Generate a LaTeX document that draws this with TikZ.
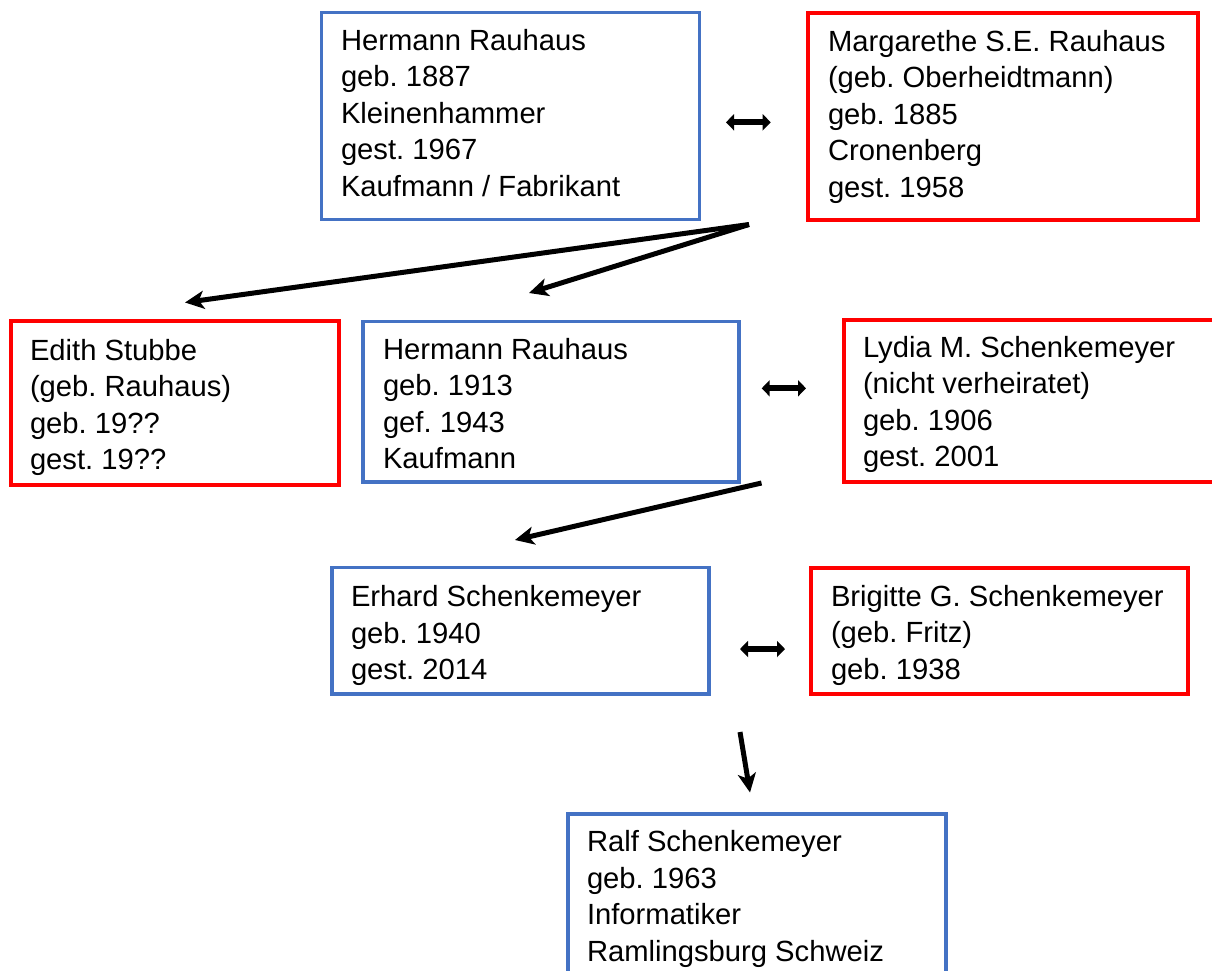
\documentclass[tikz,border=0pt]{standalone}
\usepackage{fontspec}
\setmainfont{Liberation Sans}
\usetikzlibrary{arrows.meta}
\definecolor{boxblue}{HTML}{4472C4}
\definecolor{boxred}{HTML}{FF0000}
\frenchspacing
\tikzset{
  malebox/.style={draw=boxblue, line width=3.5pt, inner sep=0pt, outer sep=0pt, anchor=north west},
  femalebox/.style={draw=boxred, line width=4pt, inner sep=0pt, outer sep=0pt, anchor=north west},
  txt/.style={anchor=base west, inner sep=0pt, outer sep=0pt, font=\fontsize{29.2}{36.5}\selectfont\frenchspacing},
  child/.style={line width=5pt, -{Stealth[length=19pt,width=18pt,inset=5pt]}},
  partner/.style={line width=6pt, {Triangle[length=8pt,width=16pt]}-{Triangle[length=8pt,width=16pt]}}
}
\newcommand{\lines}[1]{\begin{tabular}[t]{@{}l@{}}#1\end{tabular}}
\begin{document}
\begin{tikzpicture}[x=1pt,y=-1pt]
\clip (0,0) rectangle (1212,970);
\fill[white] (0,0) rectangle (1212,970);

% boxes
\node[malebox, minimum width=378pt, minimum height=207pt] (A) at (321.5,12.5) {};
\node[femalebox, minimum width=390pt, minimum height=207pt] (B) at (807.5,12.5) {};
\node[femalebox, minimum width=328pt, minimum height=163.5pt] (C) at (11,321) {};
\node[malebox, minimum width=376pt, minimum height=160.5pt] (D) at (363,321.5) {};
\node[femalebox, minimum width=372pt, minimum height=162.5pt] (E) at (843.5,319.5) {};
\node[malebox, minimum width=377pt, minimum height=126.5pt] (F) at (332,567.5) {};
\node[femalebox, minimum width=376.5pt, minimum height=126.5pt] (G) at (811,567.5) {};
\node[malebox, minimum width=378pt, minimum height=190pt] (H) at (568,814) {};

% texts
\node[txt] (At) at (341,50) {\lines{Hermann Rauhaus\\geb. 1887\\Kleinenhammer\\gest. 1967\\Kaufmann / Fabrikant}};
\node[txt] (Bt) at (828,51) {\lines{Margarethe S.E. Rauhaus\\(geb. Oberheidtmann)\\geb. 1885\\Cronenberg\\gest. 1958}};
\node[txt] (Ct) at (30,360) {\lines{Edith Stubbe\\(geb. Rauhaus)\\geb. 19??\\gest. 19??}};
\node[txt] (Dt) at (383,359) {\lines{Hermann Rauhaus\\geb. 1913\\gef. 1943\\Kaufmann}};
\node[txt] (Et) at (863,357) {\lines{Lydia M. Schenkemeyer\\(nicht verheiratet)\\geb. 1906\\gest. 2001}};
\node[txt] (Ft) at (351,606.5) {\lines{Erhard Schenkemeyer\\geb. 1940\\gest. 2014}};
\node[txt] (Gt) at (831,606) {\lines{Brigitte G. Schenkemeyer\\(geb. Fritz)\\geb. 1938}};
\node[txt] (Ht) at (587,851.5) {\lines{Ralf Schenkemeyer\\geb. 1963\\Informatiker\\Ramlingsburg Schweiz}};

% arrow end points
\coordinate (s1) at (749,224.5);
\coordinate (t1) at (185,302.5);
\coordinate (t2) at (529,293);
\coordinate (s3) at (761.5,483);
\coordinate (t3) at (515,540);
\coordinate (s4) at (740,732);
\coordinate (t4) at (750,792.5);
\coordinate (p1a) at (726,122.3);
\coordinate (p1b) at (770.7,122.3);
\coordinate (p2a) at (761.7,388.3);
\coordinate (p2b) at (806,388.3);
\coordinate (p3a) at (740,649);
\coordinate (p3b) at (785,649);

\draw[child] (s1) -- (t1);
\draw[child] (s1) -- (t2);
\draw[child] (s3) -- (t3);
\draw[child] (s4) -- (t4);
\draw[partner] (p1a) -- (p1b);
\draw[partner] (p2a) -- (p2b);
\draw[partner] (p3a) -- (p3b);
\end{tikzpicture}
\end{document}
